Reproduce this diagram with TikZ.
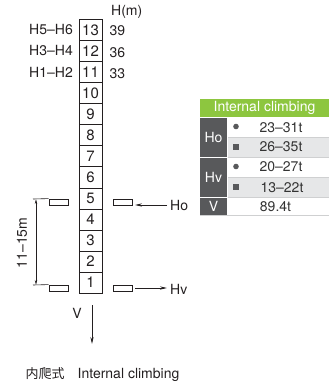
\documentclass[tikz,border=0pt]{standalone}
\usepackage{fontspec}
\setmainfont{TeX Gyre Heros}
\newfontfamily\cjk{Noto Sans CJK SC}
\usetikzlibrary{arrows.meta}
\definecolor{txt}{HTML}{231F20}
\definecolor{hdr}{HTML}{8DC63F}
\definecolor{dk}{HTML}{58595B}
\definecolor{lg}{HTML}{E6E7E8}
\definecolor{sep}{HTML}{CFD0D1}
\definecolor{vt}{HTML}{333333}
\begin{document}
\begin{tikzpicture}[x=1pt,y=-1pt,
  font=\fontsize{14}{16}\selectfont,
  every node/.style={text=txt, inner sep=0pt},
  cell/.style={draw=txt, line width=0.8pt, minimum width=23pt, minimum height=21.05pt, inner sep=0pt, font=\fontsize{15}{17}\selectfont},
  bar/.style={draw=txt, line width=0.8pt, minimum width=19pt, minimum height=6pt, inner sep=0pt},
  arr/.style={draw=txt, line width=0.8pt, -{Stealth[length=7pt,width=3.2pt]}},
  dim/.style={draw=txt, line width=0.6pt},
  tw/.style={text=white},
  tv/.style={text=vt}]
\useasboundingbox (0,0) rectangle (329,383);

% column of cells
\foreach \i in {1,...,13}
  \node[cell] (c\i) at (90.5, {19.5+21.05*(13-\i)+10.525}) {\i};

% left labels
\node[anchor=east] (l13) at (73,29.8) {H5–H6};
\node[anchor=east] (l12) at (73,50.8) {H3–H4};
\node[anchor=east] (l11) at (73,71.9) {H1–H2};

% right heights
\node[anchor=west] (hm) at (111,12) {H(m)};
\node[anchor=west] (h13) at (109.5,31) {39};
\node[anchor=west] (h12) at (109.5,52.2) {36};
\node[anchor=west] (h11) at (109.5,73.8) {33};

% bars
\node[bar] (bl5) at (58.5,202) {};
\node[bar] (bl1) at (58.5,288) {};
\node[bar] (br5) at (122.5,202.5) {};
\node[bar] (br1) at (122.5,288) {};

% dimension
\coordinate (d1) at (33,199);
\coordinate (d2) at (33,285);
\draw[dim] (d1) -- (bl5.north west);
\draw[dim] (d2) -- (bl1.north west);
\coordinate (dv1) at (36,199);
\coordinate (dv2) at (36,285);
\draw[dim, {Stealth[length=5pt,width=2.4pt]}-{Stealth[length=5pt,width=2.4pt]}] (dv1) -- (dv2);
\node[rotate=90] (dl) at (22,243) {11–15m};

% Ho / Hv arrows
\coordinate (hoS) at (167,205);
\coordinate (hoE) at (135,205);
\draw[arr] (hoS) -- (hoE);
\node[anchor=west] (ho) at (170,205) {Ho};
\coordinate (hvS) at (135,288);
\coordinate (hvE) at (167,288);
\draw[arr] (hvS) -- (hvE);
\node[anchor=west] (hv) at (170,289) {Hv};

% V arrow
\coordinate (vS) at (92,305);
\coordinate (vE) at (92,344);
\draw[arr] (vS) -- (vE);
\node (vl) at (77,313) {V};

% caption
\node (cap) at (102.5,375) {{\cjk\fontsize{13}{15}\selectfont 内爬式}\hspace{13pt}Internal climbing};

% table
\fill[hdr] (200,99) rectangle (329,117);
\node[tw] (th) at (264.5,108) {Internal climbing};
\fill[dk] (200,118) rectangle (227,156.5);
\fill[dk] (200,157.5) rectangle (227,197);
\fill[dk] (200,198) rectangle (227,215);
\node[tw] (tho) at (213.5,137.3) {Ho};
\node[tw] (thv) at (213.5,177.3) {Hv};
\node[tw] (tvv) at (213.5,206.5) {V};
\fill[lg] (228,137.5) rectangle (329,156.5);
\fill[lg] (228,177.5) rectangle (329,197);
\draw[sep, line width=0.6pt] (228,137.3) -- (329,137.3);
\draw[sep, line width=0.6pt] (228,157) -- (329,157);
\draw[sep, line width=0.6pt] (228,177.3) -- (329,177.3);
\draw[sep, line width=0.6pt] (228,197.5) -- (329,197.5);
\draw[sep, line width=0.6pt] (200,215.5) -- (329,215.5);
\fill[dk] (236,126.5) circle (2.8);
\fill[dk] (233,143.5) rectangle +(6,6);
\fill[dk] (236,166.5) circle (2.8);
\fill[dk] (233,184) rectangle +(6,6);
\node[tv] (v1) at (281,127.5) {23–31t};
\node[tv] (v2) at (281,147) {26–35t};
\node[tv] (v3) at (281,167) {20–27t};
\node[tv] (v4) at (282,187.2) {13–22t};
\node[tv] (v5) at (275.5,206.5) {89.4t};
\end{tikzpicture}
\end{document}
